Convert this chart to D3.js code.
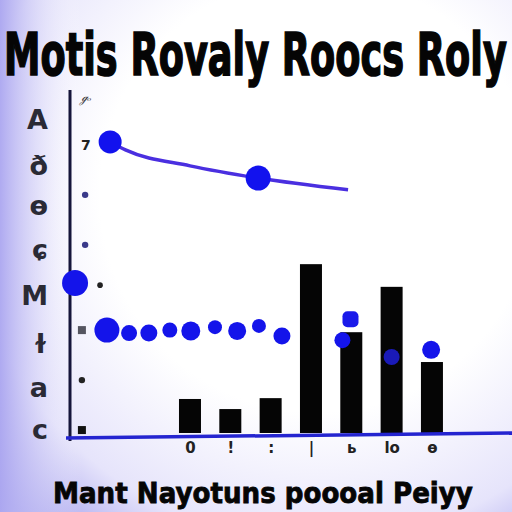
<!DOCTYPE html>
<html><head><meta charset="utf-8">
<script src="https://cdn.jsdelivr.net/npm/d3@7"></script>
<style>html,body{margin:0;padding:0;background:#fff}svg{display:block}</style>
</head><body>
<script>
// ---- data ----
const title = "Motis Rovaly Roocs Roly";
const subtitle = "Mant Nayotuns poooal Peiyy";
const yTickValues = [7.45, 6.36, 5.40, 4.36, 3.26, 2.12, 1.07, 0.07];
const yTickLabels = ["A", "ð", "ɵ", "ɕ", "M", "ɫ", "a", "c"];
const barX = [3, 4, 5, 6, 7, 8, 9];
const barValues = [0.81, 0.57, 0.83, 4.02, 2.40, 3.48, 1.69];
const xTickLabels = ["0", "ǃ", ":", "|", "ь", "lo", "ɵ"];
const lineX = [1.02, 1.4, 3.0, 4.69, 6.92];
const lineY = [6.93, 6.74, 6.36, 6.07, 5.79];
const lineDotX = [1.02, 4.69];
const lineDotY = [6.93, 6.07];
const lineDotR = [11.5, 12.5];
const rowX = [0.94, 1.49, 1.98, 2.5, 3.02, 3.62, 4.17, 4.71, 5.28, 6.78, 8.0, 8.98, 0.15];
const rowY = [2.45, 2.38, 2.38, 2.45, 2.43, 2.52, 2.43, 2.55, 2.31, 2.21, 1.81, 1.98, 3.57];
const rowR = [12.5, 8, 8.5, 7.5, 9.5, 7, 9, 7, 8.5, 8, 8, 9, 13];
const squareX = [6.98];
const squareY = [2.71];
const markDotX = [0.4, 0.4, 0.77, 0.32];
const markDotY = [5.67, 4.48, 3.52, 1.26];
const markDotR = [3.2, 3.2, 2.8, 3.2];
const markSqX = [0.32, 0.32];
const markSqY = [2.45, 0.07];

const W = 512, H = 512;
const svg = d3.select("body").append("svg").attr("width", W).attr("height", H);
const defs = svg.append("defs");
const rg = defs.append("radialGradient").attr("id", "bg").attr("cx", 0.62).attr("cy", 0.38).attr("r", 0.85);
rg.append("stop").attr("offset", "0.5").attr("stop-color", "#ffffff");
rg.append("stop").attr("offset", "0.8").attr("stop-color", "#e6e4fb");
rg.append("stop").attr("offset", "1").attr("stop-color", "#9f9aec");
const lg = defs.append("linearGradient").attr("id", "lbg").attr("x1", 0).attr("x2", 1);
lg.append("stop").attr("offset", "0").attr("stop-color", "#aca7f0").attr("stop-opacity", 0.95);
lg.append("stop").attr("offset", "0.16").attr("stop-color", "#ffffff").attr("stop-opacity", 0);
svg.append("rect").attr("width", W).attr("height", H).attr("fill", "url(#bg)");
svg.append("rect").attr("width", W).attr("height", H).attr("fill", "url(#lbg)");

const x = d3.scaleLinear().domain([0, 11]).range([69, 512.6]);
const y = d3.scaleLinear().domain([0, 8]).range([433, 97]);

// bars
svg.append("g").selectAll("rect").data(barValues).join("rect")
  .attr("x", (d, i) => x(barX[i]) - 11)
  .attr("width", 22)
  .attr("y", d => y(d))
  .attr("height", d => y(0) - y(d))
  .attr("fill", "#050505");

// y axis
const yAxis = d3.axisLeft(y).tickValues(yTickValues).tickFormat((d, i) => yTickLabels[i]).tickSize(0).tickPadding(22);
const ga = svg.append("g").attr("transform", "translate(70,0)").call(yAxis);
ga.select(".domain").remove();
ga.selectAll("text").attr("font-family", "DejaVu Sans").attr("font-size", 27).attr("fill", "#2a2a35").attr("font-weight", "bold");
svg.append("line").attr("x1", 70).attr("x2", 70).attr("y1", 90).attr("y2", 441).attr("stroke", "#15153a").attr("stroke-width", 3);

// x axis
const xAxis = d3.axisBottom(x).tickValues(barX).tickFormat((d, i) => xTickLabels[i]).tickSize(0).tickPadding(6);
const gx = svg.append("g").attr("transform", "translate(0,436)").call(xAxis);
gx.select(".domain").remove();
gx.selectAll("text").attr("font-family", "DejaVu Sans").attr("font-size", 15).attr("font-weight", "bold").attr("fill", "#222");
svg.append("line").attr("x1", 66).attr("x2", 512).attr("y1", y(0) + 5).attr("y2", y(0)).attr("stroke", "#2424d0").attr("stroke-width", 3.5);

// small markers near axis
svg.append("g").selectAll("circle").data(markDotY).join("circle")
  .attr("cx", (d, i) => x(markDotX[i])).attr("cy", d => y(d)).attr("r", (d, i) => markDotR[i])
  .attr("fill", (d, i) => i < 2 ? "#3a3a8a" : "#222");
svg.append("g").selectAll("rect").data(markSqY).join("rect")
  .attr("x", (d, i) => x(markSqX[i]) - 4).attr("y", d => y(d) - 4).attr("width", 8).attr("height", 8)
  .attr("fill", (d, i) => i === 0 ? "#555560" : "#111");
svg.append("text").attr("x", 81).attr("y", 101).attr("font-family", "DejaVu Serif").attr("font-style", "italic").attr("font-size", 11).attr("fill", "#333").text("ℊₒ");
svg.append("text").attr("x", 81).attr("y", 150).attr("font-family", "DejaVu Sans").attr("font-weight", "bold").attr("font-size", 14).attr("fill", "#222").text("7");

// line series
const line = d3.line().x((d, i) => x(lineX[i])).y(d => y(d)).curve(d3.curveMonotoneX);
svg.append("path").datum(lineY).attr("d", line).attr("fill", "none").attr("stroke", "#4a2fe0").attr("stroke-width", 3.5);
svg.append("g").selectAll("circle").data(lineDotY).join("circle")
  .attr("cx", (d, i) => x(lineDotX[i])).attr("cy", d => y(d)).attr("r", (d, i) => lineDotR[i]).attr("fill", "#1212ee");

// dot row
svg.append("g").selectAll("circle").data(rowY).join("circle")
  .attr("cx", (d, i) => x(rowX[i])).attr("cy", d => y(d)).attr("r", (d, i) => rowR[i])
  .attr("fill", (d, i) => i === 10 ? "#1a1ab8" : "#1414ea");
svg.append("g").selectAll("rect").data(squareY).join("rect")
  .attr("x", (d, i) => x(squareX[i]) - 8).attr("y", d => y(d) - 8).attr("width", 16).attr("height", 16).attr("rx", 5)
  .attr("fill", "#1a1aea");

// titles (scaled horizontally to fit the reference width)
function fitText(txt, x0, baseline, size, width) {
  const t = svg.append("text").attr("font-family", "DejaVu Sans").attr("font-weight", "bold")
    .attr("font-size", size).attr("fill", "#050505").attr("stroke", "#050505").attr("stroke-width", size * 0.03)
    .attr("x", 0).attr("y", 0).text(txt);
  const w = t.node().getComputedTextLength();
  t.attr("transform", `translate(${x0},${baseline}) scale(${width / w},1)`);
}
fitText(title, 4, 75, 58, 503);
fitText(subtitle, 53, 503, 29, 420);
</script>
</body></html>
